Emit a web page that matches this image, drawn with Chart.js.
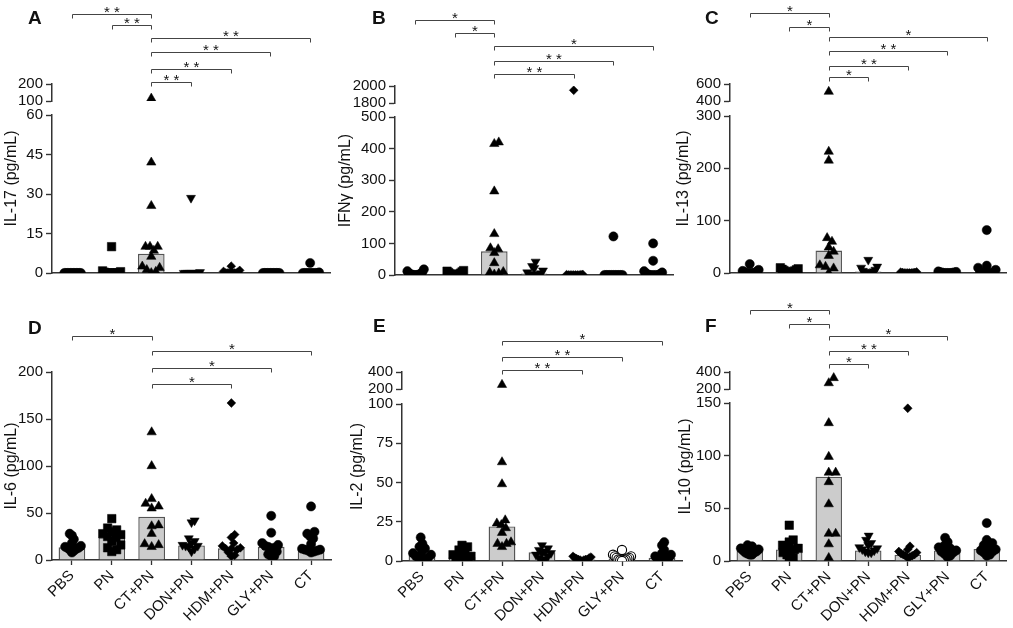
<!DOCTYPE html>
<html>
<head>
<meta charset="utf-8">
<script src="https://cdn.jsdelivr.net/npm/chart.js@4.4.1/dist/chart.umd.min.js"></script>
<style>
html,body{margin:0;padding:0;background:#fff;}
body{position:relative;width:1013px;height:628px;overflow:hidden;}
canvas{position:absolute;}
</style>
</head>
<body>
<script>
// ---------------- DATA ----------------
const groups = ['PBS', 'PN', 'CT+PN', 'DON+PN', 'HDM+PN', 'GLY+PN', 'CT'];

// IL-17 (panel A)
const il17 = [
  [0, 0, 0, 0, 0, 0, 0, 0, 0, 0, 0, 0],
  [10, 0.8, 0.5, 0.3, 0, 0, 0, 0, 0, 0, 0, 0],
  [115, 42, 25.5, 10, 10, 10, 8.5, 6.2, 2.5, 2, 1.2, 0.5, 0],
  [28.5, 0.3, 0, 0, 0, 0, 0, 0, 0, 0, 0],
  [2.6, 1.0, 0.6, 0.3, 0, 0, 0, 0, 0, 0, 0],
  [0, 0, 0, 0, 0, 0, 0, 0, 0, 0, 0, 0],
  [3.8, 0.2, 0, 0, 0, 0, 0, 0, 0, 0, 0]
];
const il17Median = [0, 0, 7.3, 0, 0, 0, 0];
const il17TicksLow = [0, 15, 30, 45, 60];
const il17TicksHigh = [100, 200];
const il17Sig = [['PBS', 'CT+PN', '**'], ['PN', 'CT+PN', '**'], ['CT+PN', 'CT', '**'], ['CT+PN', 'GLY+PN', '**'], ['CT+PN', 'HDM+PN', '**'], ['CT+PN', 'DON+PN', '**']];

// IFN-gamma (panel B)
const ifng = [
  [18, 12, 9, 6, 4, 3, 2, 1, 0, 0, 0, 0],
  [14, 12, 10, 8, 6, 4, 3, 2, 1, 0, 0, 0],
  [420, 415, 265, 130, 85, 82, 70, 38, 10, 8, 5, 2],
  [42, 28, 22, 14, 8, 5, 3, 2, 1, 0, 0],
  [1950, 2, 1, 1, 0, 0, 0, 0, 0, 0, 0],
  [122, 0, 0, 0, 0, 0, 0, 0, 0, 0, 0, 0],
  [100, 45, 12, 8, 5, 3, 1, 0, 0, 0, 0]
];
const ifngMedian = [3, 4, 75, 5, 0, 0, 1];
const ifngTicksLow = [0, 100, 200, 300, 400, 500];
const ifngTicksHigh = [1800, 2000];
const ifngSig = [['PBS', 'CT+PN', '*'], ['PN', 'CT+PN', '*'], ['CT+PN', 'CT', '*'], ['CT+PN', 'GLY+PN', '**'], ['CT+PN', 'HDM+PN', '**']];

// IL-13 (panel C)
const il13 = [
  [17, 6, 4, 3, 2, 1, 0, 0, 0, 0, 0],
  [10, 8, 7, 6, 5, 4, 3, 2, 1, 0, 0],
  [510, 232, 215, 67, 60, 49, 41, 33, 15, 12, 9, 0],
  [25, 12, 10, 6, 4, 3, 2, 1, 0, 0, 0],
  [2, 1.5, 1, 1, 0.5, 0, 0, 0, 0, 0],
  [3, 2, 1.5, 1, 1, 0.5, 0, 0, 0, 0, 0],
  [82, 14, 10, 6, 3, 1, 0, 0, 0, 0, 0]
];
const il13Median = [2, 3, 43, 3, 0, 0, 1];
const il13TicksLow = [0, 100, 200, 300];
const il13TicksHigh = [400, 600];
const il13Sig = [['PBS', 'CT+PN', '*'], ['PN', 'CT+PN', '*'], ['CT+PN', 'CT', '*'], ['CT+PN', 'GLY+PN', '**'], ['CT+PN', 'HDM+PN', '**'], ['CT+PN', 'DON+PN', '*']];

// IL-6 (panel D)
const il6 = [
  [28, 26, 22, 18, 15, 14, 13, 13, 12, 11, 10, 8],
  [44, 34, 32, 30, 28, 27, 25, 24, 20, 16, 13, 11, 9],
  [136, 100, 65, 60, 57, 55, 37, 36, 28, 17, 16, 14],
  [42, 40, 23, 20, 18, 16, 15, 15, 14, 12, 9],
  [167, 27, 24, 18, 15, 13, 12, 12, 11, 8, 5, 4],
  [47, 29, 18, 16, 15, 14, 13, 12, 9, 6, 4, 4],
  [57, 30, 28, 25, 23, 17, 12, 11, 11, 10, 10, 9, 8]
];
const il6Median = [13.5, 24, 46, 15.5, 12.5, 14, 12];
const il6TicksLow = [0, 50, 100, 150, 200];
const il6Sig = [['PBS', 'CT+PN', '*'], ['CT+PN', 'CT', '*'], ['CT+PN', 'GLY+PN', '*'], ['CT+PN', 'HDM+PN', '*']];

// IL-2 (panel E)
const il2 = [
  [15, 11, 9, 8, 6, 5, 4, 3, 2, 2, 1, 1],
  [10, 9, 7, 6, 5, 4, 3, 2, 2, 1, 1, 0],
  [250, 63, 49, 26, 24, 23, 21, 18, 12, 11, 11, 9],
  [10, 8, 7, 6, 5, 5, 4, 3, 2, 1, 0],
  [3, 2.5, 2, 2, 1.5, 1, 1, 1, 0.5, 0.5, 0],
  [7, 4, 3, 3, 2, 2, 1.5, 1, 1, 0.5, 0.5, 0],
  [12, 10, 7, 5, 4, 3, 2, 1, 1, 0.5, 0.5, 0]
];
const il2Median = [4, 2.5, 22, 5.5, 1, 1.5, 2];
const il2TicksLow = [0, 25, 50, 75, 100];
const il2TicksHigh = [200, 400];
const il2Sig = [['CT+PN', 'CT', '*'], ['CT+PN', 'GLY+PN', '**'], ['CT+PN', 'HDM+PN', '**']];

// IL-10 (panel F)
const il10 = [
  [15, 14, 13, 12, 11, 10, 9, 8, 8, 7, 6, 6],
  [34, 20, 18, 15, 13, 12, 11, 10, 8, 6, 3, 0],
  [330, 270, 131, 99, 84, 84, 75, 54, 26, 26, 16, 3],
  [24, 20, 17, 15, 13, 12, 11, 10, 9, 8, 8],
  [145, 14, 11, 9, 8, 7, 6, 6, 5, 5, 4, 3],
  [22, 18, 15, 13, 12, 11, 10, 9, 8, 7, 5, 4],
  [36, 20, 17, 15, 13, 12, 11, 10, 9, 8, 6, 5]
];
const il10Median = [9.5, 11, 80, 10, 6, 10, 11.5];
const il10TicksLow = [0, 50, 100, 150];
const il10TicksHigh = [200, 400];
const il10Sig = [['PBS', 'CT+PN', '*'], ['PN', 'CT+PN', '*'], ['CT+PN', 'GLY+PN', '*'], ['CT+PN', 'HDM+PN', '**'], ['CT+PN', 'DON+PN', '*']];

// ---------------- STYLE / LAYOUT ----------------
const FONT = '"Liberation Sans", Arial, Helvetica, sans-serif';
const INK = '#111111';
const AXIS = '#333333';
const MARKERS = [
  {style: 'circle', r: 4.6},
  {style: 'rect', r: 6.0},
  {style: 'triangle', r: 5.4},
  {style: 'triangle', r: 5.2, rot: 180},
  {style: 'rectRot', r: 4.4},
  {style: 'circle', r: 4.6},
  {style: 'circle', r: 4.6}
];

const panels = [
  {id: 'A', title: 'IL-17 (pg/mL)', values: il17, medians: il17Median, low: il17TicksLow, high: il17TicksHigh, sig: il17Sig, bottomRow: false,
   L: {cx: 0, cy: 0, cw: 345, ch: 300, axisX: 52, right: 330, top: 84, hiBottom: 101, loTop: 115, bottom: 273, titleX: 12, letterX: 28, letterBase: 23.5, bracketY: [14, 25, 38, 52, 69, 82]}},
  {id: 'B', title: 'IFNγ (pg/mL)', values: ifng, medians: ifngMedian, low: ifngTicksLow, high: ifngTicksHigh, sig: ifngSig, bottomRow: false,
   L: {cx: 333, cy: 0, cw: 350, ch: 300, axisX: 395, right: 673, top: 86, hiBottom: 103, loTop: 117, bottom: 275, titleX: 346, letterX: 372, letterBase: 23.5, bracketY: [20, 33, 46, 61, 74]}},
  {id: 'C', title: 'IL-13 (pg/mL)', values: il13, medians: il13Median, low: il13TicksLow, high: il13TicksHigh, sig: il13Sig, bottomRow: false,
   L: {cx: 668, cy: 0, cw: 345, ch: 300, axisX: 730, right: 1009, top: 84, hiBottom: 101, loTop: 116, bottom: 273, titleX: 684, letterX: 705, letterBase: 23.5, bracketY: [13, 27, 37, 51, 66, 77]}},
  {id: 'D', title: 'IL-6 (pg/mL)', values: il6, medians: il6Median, low: il6TicksLow, high: null, sig: il6Sig, bottomRow: true,
   L: {cx: 0, cy: 296, cw: 345, ch: 332, axisX: 52, right: 331, top: 372, loTop: 372, bottom: 560, titleX: 12, letterX: 28, letterBase: 333.5, bracketY: [336, 351, 368, 384]}},
  {id: 'E', title: 'IL-2 (pg/mL)', values: il2, medians: il2Median, low: il2TicksLow, high: il2TicksHigh, sig: il2Sig, bottomRow: true, open: [5],
   L: {cx: 337, cy: 296, cw: 360, ch: 332, axisX: 402, right: 682, top: 372, hiBottom: 389, loTop: 404, bottom: 561, titleX: 358, letterX: 373, letterBase: 332, bracketY: [341, 357, 370]}},
  {id: 'F', title: 'IL-10 (pg/mL)', values: il10, medians: il10Median, low: il10TicksLow, high: il10TicksHigh, sig: il10Sig, bottomRow: true,
   L: {cx: 668, cy: 296, cw: 345, ch: 332, axisX: 730, right: 1009, top: 372, hiBottom: 389, loTop: 403, bottom: 561, titleX: 686, letterX: 705, letterBase: 332, bracketY: [310, 324, 336, 351, 364]}}
];

// beeswarm layout of points inside a column (pixel space)
function swarmOffsets(vals, toPx, dmin, maxOff) {
  const order = vals.map((v, i) => i).sort((a, b) => vals[a] - vals[b]);
  const placed = [];
  const off = vals.map(() => 0);
  for (const i of order) {
    const py = toPx(vals[i]);
    for (let k = 0; k < 400; k++) {
      const cand = (k % 2 ? 1 : -1) * Math.ceil(k / 2);
      if (placed.every(p => (p.x - cand) ** 2 + (p.y - py) ** 2 >= dmin * dmin)) {
        off[i] = cand; placed.push({x: cand, y: py}); break;
      }
    }
  }
  const m = Math.max(...off.map(Math.abs));
  const s = m > maxOff ? maxOff / m : 1;
  return off.map(o => o * s);
}

function makeToPx(P) {
  const L = P.L, loMax = P.low[P.low.length - 1];
  return v => {
    if (P.high && v > loMax) {
      const a = P.high[0], b = P.high[P.high.length - 1];
      return L.hiBottom - (v - a) / (b - a) * (L.hiBottom - L.top);
    }
    return L.bottom - v / loMax * (L.bottom - L.loTop);
  };
}

function yScale(P, ticksArr) {
  const L = P.L;
  return {
    type: 'linear', position: 'left', offset: false,
    min: ticksArr[0], max: ticksArr[ticksArr.length - 1],
    afterBuildTicks: s => { s.ticks = ticksArr.map(v => ({value: v})); },
    afterFit: s => { s.width = L.axisX - L.cx; },
    ticks: {autoSkip: false, color: INK, font: {family: FONT, size: 15}, padding: 3, callback: v => String(v)},
    grid: {offset: false, drawOnChartArea: false, drawTicks: true, tickLength: 6, tickColor: AXIS, tickWidth: 1.4},
    border: {display: true, color: AXIS, width: 1.5}
  };
}

function buildPanel(P) {
  const L = P.L;
  const cv = document.createElement('canvas');
  cv.width = L.cw; cv.height = L.ch;
  cv.style.left = L.cx + 'px'; cv.style.top = L.cy + 'px';
  cv.style.width = L.cw + 'px'; cv.style.height = L.ch + 'px';
  document.body.appendChild(cv);

  const toPx = makeToPx(P);
  const spacing = (L.right - L.axisX) / 7;
  const loMax = P.low[P.low.length - 1];

  const datasets = [{
    type: 'bar', xAxisID: 'x', yAxisID: 'yLo', order: 10,
    data: P.medians.map((m, i) => ({x: i, y: m})),
    backgroundColor: '#cccccc', borderColor: '#555555', borderWidth: 1.4,
    barPercentage: 0.67, categoryPercentage: 1
  }];
  P.values.forEach((vals, g) => {
    const offs = swarmOffsets(vals, toPx, 7, 9);
    const lo = [], hi = [];
    vals.forEach((v, k) => {
      const pt = {x: g + offs[k] / spacing, y: v};
      (P.high && v > loMax ? hi : lo).push(pt);
    });
    const mk = MARKERS[g];
    const open = P.open && P.open.includes(g);
    const base = {
      type: 'scatter', xAxisID: 'x', order: 1,
      pointStyle: mk.style, pointRadius: mk.r, pointHoverRadius: mk.r, pointRotation: mk.rot || 0,
      pointBackgroundColor: open ? '#ffffff' : '#000000', backgroundColor: open ? '#ffffff' : '#000000',
      pointBorderColor: '#000000', borderColor: '#000000', pointBorderWidth: open ? 1.1 : 0.5
    };
    datasets.push(Object.assign({}, base, {yAxisID: 'yLo', data: lo}));
    if (hi.length) datasets.push(Object.assign({}, base, {yAxisID: 'yHi', data: hi}));
  });

  const scales = {
    x: {
      type: 'linear', position: 'bottom', min: -0.5, max: 6.5, offset: false,
      afterBuildTicks: s => { s.ticks = groups.map((_, i) => ({value: i})); },
      afterFit: s => { s.height = L.cy + L.ch - L.bottom; },
      ticks: {display: P.bottomRow, autoSkip: false, minRotation: 45, maxRotation: 45, padding: 2,
              color: INK, font: {family: FONT, size: 15}, callback: v => groups[v]},
      grid: {offset: false, drawOnChartArea: false, drawTicks: P.bottomRow, tickLength: 5, tickColor: AXIS, tickWidth: 1.3},
      border: {display: true, color: AXIS, width: 1.5}
    },
    yLo: Object.assign(yScale(P, P.low), {weight: 0})
  };
  if (P.high) {
    Object.assign(scales.yLo, {stack: 'v', stackWeight: L.bottom - L.loTop});
    scales.yGap = {
      type: 'linear', position: 'left', stack: 'v', stackWeight: L.loTop - L.hiBottom, weight: 1, min: 0, max: 1,
      afterFit: s => { s.width = L.axisX - L.cx; },
      ticks: {display: false}, grid: {display: false}, border: {display: false}
    };
    scales.yHi = Object.assign(yScale(P, P.high), {stack: 'v', stackWeight: L.hiBottom - L.top, weight: 2});
  }

  const decor = {
    id: 'decor' + P.id,
    afterDraw(chart) {
      const c = chart.ctx, xs = chart.scales.x, a = chart.chartArea;
      c.save();
      c.fillStyle = INK;
      c.save();
      c.translate(L.titleX - L.cx, (a.top + a.bottom) / 2);
      c.rotate(-Math.PI / 2);
      c.font = '16px ' + FONT; c.textAlign = 'center'; c.textBaseline = 'middle';
      c.fillText(P.title, 0, 0);
      c.restore();
      c.font = 'bold 19px ' + FONT; c.textAlign = 'left'; c.textBaseline = 'alphabetic';
      c.fillText(P.id, L.letterX - L.cx, L.letterBase - L.cy);
      c.strokeStyle = '#444444'; c.lineWidth = 1;
      c.font = '15px ' + FONT; c.textAlign = 'center';
      P.sig.forEach((s, k) => {
        const x1 = Math.round(xs.getPixelForValue(groups.indexOf(s[0]))) + 0.5;
        const x2 = Math.round(xs.getPixelForValue(groups.indexOf(s[1]))) + 0.5;
        const y = Math.round(L.bracketY[k] - L.cy) + 0.5;
        c.beginPath(); c.moveTo(x1, y + 4); c.lineTo(x1, y); c.lineTo(x2, y); c.lineTo(x2, y + 4); c.stroke();
        c.fillText(s[2].split('').join(' '), (x1 + x2) / 2, y + 2.5);
      });
      c.restore();
    }
  };

  new Chart(cv, {
    type: 'scatter',
    data: {datasets},
    options: {
      responsive: false, animation: false, devicePixelRatio: 1, events: [],
      layout: {padding: {left: 0, top: L.top - L.cy, right: L.cx + L.cw - L.right, bottom: 0}},
      plugins: {legend: {display: false}, tooltip: {enabled: false}},
      scales
    },
    plugins: [decor]
  });
}

panels.forEach(buildPanel);
</script>
</body>
</html>
